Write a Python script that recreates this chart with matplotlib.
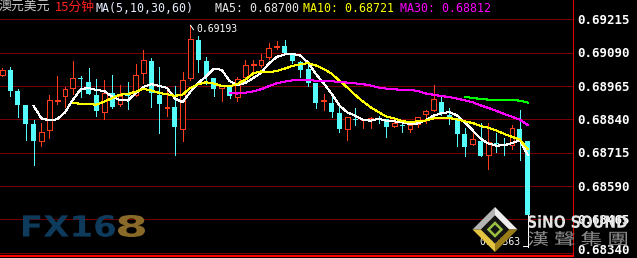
import numpy as np
import pandas as pd
import matplotlib
matplotlib.use("Agg")
import matplotlib.pyplot as plt
from matplotlib.textpath import TextPath
from matplotlib.font_manager import FontProperties
from matplotlib.patches import PathPatch, Polygon
from matplotlib.transforms import Affine2D

# 15-minute AUD/USD candles
opens = [0.69006, 0.69025, 0.68946, 0.68894, 0.68822, 0.68760, 0.68800, 0.68909, 0.68927, 0.68957,
         0.68995, 0.68980, 0.68931, 0.68869, 0.68940, 0.68896, 0.68929, 0.68930, 0.69013, 0.69059,
         0.68930, 0.68882, 0.68885, 0.68803, 0.68996, 0.69137, 0.69059, 0.68995, 0.68959, 0.68965,
         0.68923, 0.68998, 0.69044, 0.69045, 0.69073, 0.69112, 0.69115, 0.69085, 0.69055, 0.69027,
         0.68975, 0.68909, 0.68902, 0.68865, 0.68805, 0.68841, 0.68836, 0.68840, 0.68843, 0.68840,
         0.68815, 0.68817, 0.68805, 0.68824, 0.68859, 0.68874, 0.68905, 0.68857, 0.68844, 0.68786,
         0.68746, 0.68759, 0.68707, 0.68749, 0.68745, 0.68742, 0.68803, 0.68759]
highs = [0.69032, 0.69036, 0.68954, 0.68895, 0.68837, 0.68826, 0.68931, 0.69002, 0.68961, 0.69059,
         0.69002, 0.69032, 0.68991, 0.68987, 0.69006, 0.68969, 0.68981, 0.69047, 0.69100, 0.69070,
         0.69036, 0.68957, 0.68966, 0.69016, 0.69193, 0.69152, 0.69074, 0.68996, 0.68966, 0.68969,
         0.69000, 0.69062, 0.69062, 0.69085, 0.69125, 0.69134, 0.69137, 0.69088, 0.69059, 0.69050,
         0.68976, 0.68936, 0.68936, 0.68885, 0.68848, 0.68882, 0.68840, 0.68848, 0.68852, 0.68841,
         0.68837, 0.68829, 0.68829, 0.68850, 0.68875, 0.68968, 0.68927, 0.68881, 0.68845, 0.68806,
         0.68790, 0.68826, 0.68827, 0.68790, 0.68771, 0.68818, 0.68875, 0.68760]
lows = [0.69002, 0.68927, 0.68849, 0.68762, 0.68669, 0.68740, 0.68771, 0.68897, 0.68886, 0.68935,
        0.68924, 0.68935, 0.68852, 0.68841, 0.68884, 0.68890, 0.68878, 0.68928, 0.68977, 0.68887,
        0.68790, 0.68852, 0.68706, 0.68760, 0.68987, 0.69019, 0.68972, 0.68929, 0.68910, 0.68921,
        0.68910, 0.68997, 0.69010, 0.69035, 0.69066, 0.69103, 0.69088, 0.69052, 0.68997, 0.68965,
        0.68884, 0.68875, 0.68848, 0.68794, 0.68764, 0.68819, 0.68809, 0.68807, 0.68827, 0.68775,
        0.68810, 0.68794, 0.68794, 0.68811, 0.68827, 0.68873, 0.68855, 0.68822, 0.68740, 0.68704,
        0.68745, 0.68701, 0.68655, 0.68716, 0.68706, 0.68727, 0.68686, 0.68363]
closes = [0.69025, 0.68947, 0.68894, 0.68824, 0.68760, 0.68792, 0.68912, 0.68912, 0.68954, 0.68995,
          0.68991, 0.68936, 0.68872, 0.68939, 0.68887, 0.68929, 0.68926, 0.69005, 0.69061, 0.68938,
          0.68899, 0.68885, 0.68810, 0.68986, 0.69141, 0.69062, 0.69004, 0.68955, 0.68965, 0.68929,
          0.68990, 0.69043, 0.69045, 0.69061, 0.69107, 0.69114, 0.69089, 0.69060, 0.69025, 0.68975,
          0.68902, 0.68910, 0.68867, 0.68804, 0.68847, 0.68839, 0.68837, 0.68846, 0.68841, 0.68812,
          0.68827, 0.68815, 0.68819, 0.68849, 0.68870, 0.68915, 0.68859, 0.68844, 0.68786, 0.68737,
          0.68766, 0.68704, 0.68754, 0.68746, 0.68742, 0.68806, 0.68761, 0.68481]

ma_periods = [5, 10, 30, 60]
ma_colors = ["white", "#ffff00", "#ff00ff", "#00ff00"]
grid_levels = [0.69215, 0.69090, 0.68965, 0.68840, 0.68715, 0.68590, 0.68465, 0.68340]
grid_labels = ["0.69215", "0.69090", "0.68965", "0.68840", "0.68715", "0.68590", "0.68465", "0.68340"]

RED = "#ff3c1e"
CYAN = "#54fcfc"
W, H = 637, 258

o, h, l, c = (np.array(a) for a in (opens, highs, lows, closes))
x = np.arange(len(c))
up = c >= o
dn = ~up
body_lo = np.minimum(o, c)
body_hi = np.maximum(o, c)
body_h = np.maximum(body_hi - body_lo, 0.00004)

fig = plt.figure(figsize=(W / 100, H / 100), dpi=100, facecolor="black")
ax = fig.add_axes([0, (H - 255.5) / H, 573.3 / W, 255.5 / H])
ax.set_facecolor("black")
ax.set_xlim(-0.29, 72.83)
ax.set_ylim(0.683293, 0.692874)
ax.set_xticks([])
ax.set_yticks([])
for side in ("top", "left"):
    ax.spines[side].set_visible(False)
ax.spines["right"].set_color("#e00000")
ax.spines["right"].set_linewidth(0.75)
ax.spines["bottom"].set_color("#ff0000")
ax.spines["bottom"].set_linewidth(1.5)

for lev in grid_levels:
    ax.axhline(lev, color="#760000", lw=0.72, snap=True, zorder=0)

# candles
ax.vlines(x[dn], l[dn], h[dn], color=CYAN, lw=0.72, antialiased=False, zorder=2)
ax.bar(x[dn], body_h[dn], bottom=body_lo[dn], width=0.64, color=CYAN, lw=0,
       antialiased=False, zorder=3)
ax.vlines(x[up], body_hi[up], h[up], color=RED, lw=0.72, antialiased=False, zorder=2)
ax.vlines(x[up], l[up], body_lo[up], color=RED, lw=0.72, antialiased=False, zorder=2)
ax.bar(x[up], body_h[up], bottom=body_lo[up], width=0.6, facecolor="black",
       edgecolor=RED, lw=0.72, antialiased=False, zorder=3)

# moving averages
s = pd.Series(closes)
for n, col in zip(ma_periods, ma_colors):
    ax.plot(x, s.rolling(n).mean(), color=col, lw=0.75, antialiased=False, zorder=4)

# extreme labels
mono = "DejaVu Sans Mono"
ax.annotate("0.69193", xy=(24, h[24]), xytext=(4.3, -6.3), textcoords="offset points",
            color="white", fontsize=7, family=mono, ha="left", va="bottom",
            arrowprops=dict(arrowstyle="-", color="white", lw=0.75, shrinkA=0, shrinkB=0,
                            relpos=(0, 0)), zorder=5)
last = len(c) - 1
ax.vlines(last, l[last], body_lo[last], color="white", lw=0.72, antialiased=False, zorder=4)
ax.annotate("0.68363", xy=(last, l[last]), xytext=(-5, 0), textcoords="offset points",
            color="white", fontsize=7, family=mono, ha="right", va="bottom",
            arrowprops=dict(arrowstyle="-", color="white", lw=0.75, shrinkA=0, shrinkB=0,
                            relpos=(1, 0)), zorder=5)

# right price scale
for lev, lab in zip(grid_levels, grid_labels):
    yy = lev + (0.00009 if lab == grid_labels[-1] else -0.00004)
    ax.text(1 + 4 / 573.3, yy, lab, transform=ax.get_yaxis_transform(), color="white",
            fontsize=9, family=mono, weight="bold", va="center", ha="left", clip_on=False)

# header
cjk = ["Noto Sans CJK SC", "DejaVu Sans"]
fig.text(-1 / W, 1 - 7 / H, "澳元美元", color="#c8c8c8", fontsize=9.3, family=cjk, va="center")
fig.text(55 / W, 1 - 7 / H, "15分钟", color="#ff2020", fontsize=9.3, family=cjk, va="center")
header = [(96, "MA(5,10,30,60)", "#e8eeff"), (215, "MA5: 0.68700", "#e8e8e8"),
          (303, "MA10: 0.68721", "#ffff00"), (400, "MA30: 0.68812", "#ff00ff")]
for px, txt, col in header:
    fig.text(px / W, 1 - 8 / H, txt, color=col, fontsize=8.4, family=mono, va="center")


def fit_text(s, x0, y0, x1, y1, color, family="DejaVu Sans", weight="bold"):
    tp = TextPath((0, 0), s, size=10, prop=FontProperties(family=family, weight=weight))
    bb = tp.get_extents()
    tr = (Affine2D().translate(-bb.x0, -bb.y0)
          .scale((x1 - x0) / bb.width, (y1 - y0) / bb.height)
          .translate(x0, H - y1))
    fig.add_artist(PathPatch(tp, transform=tr, facecolor=color, lw=0))


# watermarks
fit_text("FX16", 23, 215, 115, 237, "#0e3a5c")
fit_text("8", 118, 215, 145, 237, "#8a6a28")

pix = Affine2D().scale(1, -1).translate(0, H)
cx, cy, ro, ri = 495, 229.5, 22.5, 14
O = [(cx - ro, cy), (cx, cy - ro), (cx + ro, cy), (cx, cy + ro)]
I = [(cx - ri, cy), (cx, cy - ri), (cx + ri, cy), (cx, cy + ri)]
faces = [([O[0], O[1], I[1], I[0]], "#b4b4b4"), ([O[1], O[2], I[2], I[1]], "#eeeeee"),
         ([O[2], O[3], I[3], I[2]], "#9a7c18"), ([O[3], O[0], I[0], I[3]], "#e2c440")]
for pts, col in faces:
    fig.add_artist(Polygon(pts, closed=True, facecolor=col, lw=0, transform=pix))
fig.add_artist(Polygon(I, closed=True, facecolor="#141414", lw=0, transform=pix))
G = [(cx - 6.5, cy), (cx, cy - 6.5), (cx + 6.5, cy), (cx, cy + 6.5)]
fig.add_artist(Polygon(G, closed=True, facecolor="none", edgecolor="#9ac040", lw=1.8,
                       transform=pix))

fit_text("SiNO SOUND", 528, 215, 627, 228, "#e4e4e4")
fit_text("漢 聲 集 團", 528, 231, 627, 246, "#8c8c8c", family="Noto Sans CJK TC", weight="normal")

fig.savefig("out.png", dpi=100, facecolor="black")
